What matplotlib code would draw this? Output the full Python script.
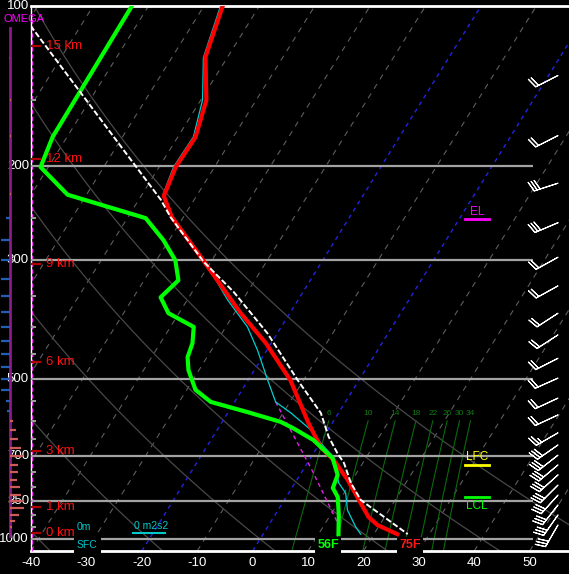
import numpy as np
import matplotlib
matplotlib.use("Agg")
import matplotlib.pyplot as plt
from matplotlib.lines import Line2D

plt.rcParams['font.family'] = ['Liberation Sans', 'DejaVu Sans']

# ---------------- data ----------------
temp_p = [100, 124.6, 150.1, 176.1, 200.5, 227.2, 248.8, 300.9, 376.7, 428.7, 503.1, 605.8, 672.0, 710.8, 774.9, 855.8, 909.1, 941.1, 979]
temp_c = [-66.6, -64.0, -59.0, -56.8, -57.0, -55.9, -52.1, -41.4, -28.9, -21.0, -12.4, -4.3, 0.6, 4.4, 9.2, 14.1, 17.1, 19.6, 24.2]

dew_p = [100, 176, 200.5, 226, 250, 275, 300, 327, 352, 377, 400, 429, 456, 482, 525, 553, 578, 603, 620, 652, 705, 758, 802, 834, 901, 979]
dew_c = [-83.0, -82.6, -81.4, -73.4, -56.7, -51.0, -46.6, -43.8, -45.1, -41.9, -35.8, -34.2, -33.5, -31.9, -28.4, -24.3, -16.5, -9.4, -6.4, -1.5, 4.0, 6.8, 7.4, 9.3, 11.5, 13.6]

wb_p = [100, 125, 150, 176, 200.5, 226, 249, 296, 322, 356, 400, 442, 503, 553, 580, 624, 660, 702, 785, 820, 882, 949, 979]
wb_c = [-67.0, -64.3, -59.7, -57.2, -57.4, -56.2, -52.3, -42.4, -37.8, -32.7, -26.1, -21.7, -16.5, -12.6, -8.6, -3.1, 0.1, 4.1, 7.9, 10.3, 12.5, 15.9, 17.6]

parcel_p = [100, 110, 231, 249, 302, 344, 411, 503, 580, 643, 690, 720, 785, 845, 979]
parcel_c = [-103.9, -98.5, -56.0, -52.3, -41.3, -32.5, -21.8, -11.1, -3.2, 0.9, 4.3, 6.6, 10.1, 13.8, 26.1]

ddraft_p = [553, 742, 933, 983]
ddraft_c = [-12.6, 1.6, 12.2, 13.9]

height_km = ["0 km", "1 km", "3 km", "6 km", "9 km", "12 km", "15 km"]
height_p = [976, 871, 684, 466, 305, 194, 119]

omega_p = [125, 150, 175, 200, 225, 250, 275, 300, 325, 350, 375, 400, 425, 450, 475, 500, 525,
           550, 575, 600, 625, 650, 675, 700, 725, 750, 775, 800, 825, 850, 875, 900, 925, 950]
omega_v = [-1, 1, 1, 0, 1, -4, -9, -9, -9, -9, -9, -9, -9, -9, -9, -9, -9,
           -4, -3, 3, 6, 8, 11, 13, 8, 8, 7, 10, 11, 14, 14, 9, 5, 2]

wind_p = [135, 175, 215, 255, 296, 335, 377, 414, 458, 499, 544, 585, 632, 666, 696, 726, 758, 792, 827, 863, 901, 941]
wind_dir = [243, 243, 252, 247, 241, 241, 237, 237, 243, 246, 245, 245, 240, 235, 232, 230, 228, 225, 222, 218, 215, 210]
wind_spd = [20, 20, 30, 30, 20, 20, 20, 20, 20, 20, 20, 20, 25, 30, 30, 30, 30, 30, 30, 30, 30, 30]

isobars = [1000, 850, 700, 500, 300, 200]
isobar_labels = ["1000", "850", "700", "500", "300", "200", "100"]
isobar_label_p = [1000, 850, 700, 500, 300, 200, 100]
xtick_vals = [-40, -30, -20, -10, 0, 10, 20, 30, 40, 50]
mixing_ratios = [6, 10, 14, 18, 22, 26, 30, 34]
adiabat_t1000 = [-40, -20, 0, 20, 40, 60]
isotherms = list(range(-130, 60, 10))

sfc_t_label = "75F"
sfc_td_label = "56F"
lfc_p, lcl_p, el_p = 725, 834, 251

# ---------------- geometry ----------------
SKEW = 26.0
PBOT = 1053.0
PTOP = 100.0
XMIN, XMAX = -40.0, 57.1
W, H = 569, 574
PX_PER_C = 538 / (XMAX - XMIN)


def skx(t, p):
    return np.asarray(t, dtype=float) + SKEW * np.log(PBOT / np.asarray(p, dtype=float))


def px2x(px):
    return XMIN + (px - 31) / PX_PER_C


fig = plt.figure(figsize=(W / 100, H / 100), dpi=100, facecolor='black')
ax = fig.add_axes([31 / W, 23 / H, 538 / W, 545 / H])
ax.set_facecolor('black')
ax.set_yscale('log')
ax.set_ylim(PBOT, PTOP)
ax.set_xlim(XMIN, XMAX)
ax.axis('off')

pp = np.geomspace(PBOT, PTOP, 120)

# isotherms
for t0 in isotherms:
    if t0 in (0, -20):
        ax.plot(skx(t0, pp), pp, color='#2323e0', lw=1.0, dashes=(3, 3), zorder=2)
    else:
        ax.plot(skx(t0, pp), pp, color='#5e5e5e', lw=0.8, dashes=(5, 5), zorder=1)

# dry adiabats
for t1000 in adiabat_t1000:
    th = t1000 + 273.15
    tt = th * (pp / 1000.0) ** 0.2857 - 273.15
    ax.plot(skx(tt, pp), pp, color='#484848', lw=0.9, zorder=1)

# mixing ratio lines
pm = np.geomspace(PBOT, 600, 40)
for w in mixing_ratios:
    e = w * pm / (622.0 + w)
    lne = np.log(e / 6.112)
    td = 243.5 * lne / (17.67 - lne)
    ax.plot(skx(td, pm), pm, color='#0b6a0b', lw=0.8, zorder=2)
    ax.text(skx(td[-1], pm[-1]), 590, str(w), color='#137a13', fontsize=6,
            ha='center', va='bottom', zorder=3)

# isobars
for p in isobars:
    ax.plot([XMIN, px2x(533)], [p, p], color='#a3a3a3', lw=1.6, zorder=3, solid_capstyle='butt')
ax.plot([XMIN, XMAX], [PTOP, PTOP], color='white', lw=2, zorder=4, clip_on=False)
ax.plot([XMIN, XMAX], [PBOT, PBOT], color='white', lw=2, zorder=4, clip_on=False)
ax.plot([XMIN, XMIN], [PBOT, PTOP], color='white', lw=1.0, zorder=4, clip_on=False)
ax.plot([px2x(32.2)] * 2, [PBOT, 104], color='#ff40ff', lw=1.0, dashes=(3, 2), zorder=5, clip_on=False)

# 50 mb ticks
for p in range(150, 1001, 50):
    ax.plot([XMIN, px2x(36)], [p, p], color='#a0a0a0', lw=1.4, zorder=5, solid_capstyle='butt')

# height markers
for lab, p in zip(height_km, height_p):
    ax.plot([XMIN, px2x(41)], [p, p], color='#b00000', lw=1.6, zorder=6, solid_capstyle='butt')
    ax.text(px2x(46), p, lab, color='#ff1010', fontsize=9.5, ha='left', va='center', zorder=6)

# profiles
ax.plot(skx(ddraft_c, ddraft_p), ddraft_p, color='#e020e0', lw=1.0, dashes=(3, 2.5), zorder=7)
ax.plot(skx(wb_c, wb_p), wb_p, color='#00d0d0', lw=0.9, zorder=8)
ax.plot(skx(temp_c, temp_p), temp_p, color='#ff0000', lw=3.0, zorder=9, solid_joinstyle='round')
ax.plot(skx(dew_c, dew_p), dew_p, color='#00ff00', lw=3.0, zorder=9, solid_joinstyle='round')
ax.plot(skx(parcel_c, parcel_p), parcel_p, color='white', lw=1.4, dashes=(3, 1.2), zorder=10)

# level markers
x0, x1 = px2x(465), px2x(489)
xc = 0.5 * (x0 + x1)
ax.plot([x0, x1], [lfc_p, lfc_p], color='#ffff00', lw=2, zorder=11)
ax.annotate("LFC", (xc, lfc_p), xytext=(0, 1), textcoords='offset points', color='#ffff00',
            fontsize=8.5, ha='center', va='bottom', zorder=11)
ax.plot([x0, x1], [lcl_p, lcl_p], color='#00ff00', lw=2, zorder=11)
ax.annotate("LCL", (xc, lcl_p), xytext=(0, -2), textcoords='offset points', color='#00ff00',
            fontsize=8.5, ha='center', va='top', zorder=11)
ax.plot([x0, x1], [el_p, el_p], color='#ff00ff', lw=2, zorder=11)
ax.annotate("EL", (xc, el_p), xytext=(0, 1), textcoords='offset points', color='#ff00ff',
            fontsize=8.5, ha='center', va='bottom', zorder=11)

# wind barbs
wd = np.deg2rad(wind_dir)
u = -np.asarray(wind_spd) * np.sin(wd)
v = -np.asarray(wind_spd) * np.cos(wd)
ax.barbs(np.full(len(wind_p), px2x(558)), wind_p, u, v, length=6, color='white',
         linewidth=0.8, zorder=12, clip_on=False)

# pressure labels
for lab, p in zip(isobar_labels, isobar_label_p):
    ax.annotate(lab, xy=(29, p), xycoords=('figure pixels', 'data'), color='white',
                fontsize=9.5, ha='right', va='center', zorder=13, annotation_clip=False)

# x tick labels
for t in xtick_vals:
    ax.annotate(str(t), xy=(t, H - 563), xycoords=('data', 'figure pixels'), color='white',
                fontsize=9.5, ha='center', va='center', annotation_clip=False)

# omega column
axo = fig.add_axes([0, 23 / H, 31 / W, 545 / H])
axo.set_yscale('log')
axo.set_ylim(PBOT, PTOP)
axo.set_xlim(-10, 21)
axo.axis('off')
axo.plot([0, 0], [110, 985], color='#8a1a8a', lw=2.0, zorder=1)
for p, val in zip(omega_p, omega_v):
    if val == 0:
        continue
    col = '#1f5fb5' if val < 0 else '#cf5a5a'
    axo.plot([0, val], [p, p], color=col, lw=1.6, zorder=2, solid_capstyle='butt')

fig.text(24 / W, 1 - 19 / H, "OMEGA", color='#ff00ff', fontsize=8, ha='center', va='center')

# surface annotations
fig.text(77 / W, 1 - 527 / H, "0m", color='#00c8c8', fontsize=7.5, ha='left', va='center')
fig.text(77 / W, 1 - 545 / H, "SFC", color='#00c8c8', fontsize=7.5, ha='left', va='center',
         bbox=dict(facecolor='black', edgecolor='none', pad=2), zorder=20)
fig.text(134 / W, 1 - 526 / H, "0 m2s2", color='#00c8c8', fontsize=7.5, ha='left', va='center')
fig.add_artist(Line2D([133 / W, 165 / W], [1 - 533 / H, 1 - 533 / H], color='#00c8c8', lw=1.5))
fig.text(328 / W, 1 - 545 / H, sfc_td_label, color='#00ff00', fontsize=9, fontweight='bold',
         ha='center', va='center', bbox=dict(facecolor='black', edgecolor='none', pad=1.5), zorder=20)
fig.text(410 / W, 1 - 545 / H, sfc_t_label, color='#ff1a1a', fontsize=9, fontweight='bold',
         ha='center', va='center', bbox=dict(facecolor='black', edgecolor='none', pad=1.5), zorder=20)

fig.savefig("out.png", dpi=100, facecolor='black')
